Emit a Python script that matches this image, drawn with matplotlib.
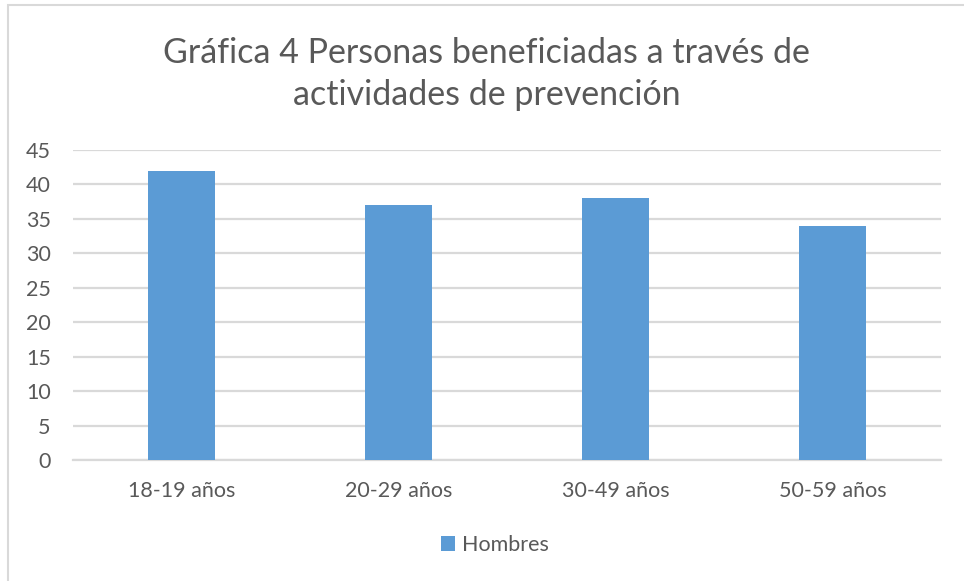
import matplotlib.pyplot as plt
from matplotlib.patches import Rectangle

categorias = ['18-19 años', '20-29 años', '30-49 años', '50-59 años']
hombres = [42, 37, 38, 34]
ticks_y = [0, 5, 10, 15, 20, 25, 30, 35, 40, 45]

azul = '#5B9BD5'
gris_texto = '#595959'
gris_linea = '#D9D9D9'

plt.rcParams['font.family'] = ['Lato', 'DejaVu Sans']

fig = plt.figure(figsize=(9.64, 5.81), dpi=100)
ax = fig.add_axes([73 / 964, 1 - 460 / 581, 868 / 964, 310 / 581])

x = range(len(categorias))
ax.bar(x, hombres, width=0.31, color=azul, label='Hombres', zorder=3)

ax.set_xlim(-0.5, len(categorias) - 0.5)
ax.set_ylim(0, 45)
ax.set_yticks(ticks_y)
ax.set_xticks(list(x))
ax.set_xticklabels(categorias)
ax.yaxis.grid(True, color=gris_linea, linewidth=1.6, zorder=0)
ax.set_axisbelow(True)
for s in ['top', 'right', 'left']:
    ax.spines[s].set_visible(False)
ax.spines['bottom'].set_color(gris_linea)
ax.spines['bottom'].set_linewidth(1.6)
ax.tick_params(axis='both', length=0, labelsize=15.5, colors=gris_texto)
ax.tick_params(axis='y', pad=16)
ax.tick_params(axis='x', pad=15)

fig.text(0.505, 1 - 74 / 581, 'Gráfica 4 Personas beneficiadas a través de\nactividades de prevención',
         ha='center', va='center', fontsize=24.5, color=gris_texto, linespacing=1.38)

fig.legend(loc='center', bbox_to_anchor=(495 / 964, 1 - 545 / 581), frameon=False,
           fontsize=15.5, labelcolor=gris_texto, handlelength=0.65, handleheight=0.65,
           handletextpad=0.3)

fig.patches.append(Rectangle((8 / 964, -0.1), 1.2, 1 - 5 / 581 + 0.1, transform=fig.transFigure,
                             fill=False, edgecolor=gris_linea, linewidth=1.5))

fig.savefig('out.png', dpi=100)
